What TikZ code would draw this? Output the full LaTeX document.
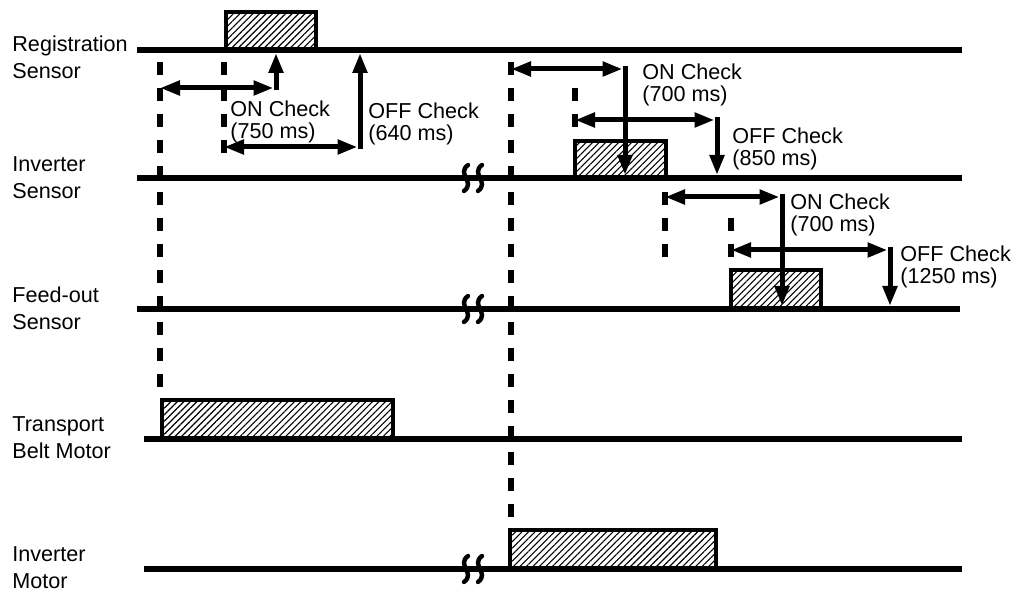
\documentclass[tikz,border=0pt]{standalone}
\usepackage{fontspec}
\setmainfont{Liberation Sans}
\usetikzlibrary{arrows.meta,patterns.meta}

\begin{document}
\begin{tikzpicture}[
    x=0.5pt, y=-0.5pt,
    font=\fontsize{10.8}{11}\selectfont,
    signal/.style={line width=3pt},
    pulse/.style={line width=2.2pt, pattern={Lines[angle=45, distance=2.3pt, line width=0.55pt]}},
    guide/.style={line width=2.8pt, dash pattern=on 6.5pt off 6.5pt},
    span/.style={line width=2.5pt, {Triangle[length=10pt, width=7pt]}-{Triangle[length=10pt, width=7pt]}},
    check/.style={line width=2.5pt, -{Triangle[length=10pt, width=7pt]}},
    breakmark/.style={line width=2.2pt, line cap=round},
    sidelabel/.style={anchor=west, align=left, inner sep=0pt, font=\fontsize{10.8}{13.5}\selectfont},
    checklabel/.style={anchor=north west, align=left, inner sep=0pt}
]
    \useasboundingbox (0,0) rectangle (1013,592);

    % Signal levels
    \coordinate (reg-l)  at (137,50);  \coordinate (reg-r)  at (962,50);
    \coordinate (inv-l)  at (137,178); \coordinate (inv-r)  at (962,178);
    \coordinate (feed-l) at (137,309); \coordinate (feed-r) at (960,309);
    \coordinate (belt-l) at (144,439); \coordinate (belt-r) at (962,439);
    \coordinate (mot-l)  at (144,569); \coordinate (mot-r)  at (962,569);

    % Pulses (hatched)
    \draw[pulse] (226,50)  |- (316,12)  -- (316,50);
    \draw[pulse] (575,178) |- (666,141) -- (666,178);
    \draw[pulse] (731,309) |- (821,270) -- (821,309);
    \draw[pulse] (162,439) |- (393,400) -- (393,439);
    \draw[pulse] (510,569) |- (716,530) -- (716,569);

    \draw[signal] (reg-l)  -- (reg-r);
    \draw[signal] (inv-l)  -- (inv-r);
    \draw[signal] (feed-l) -- (feed-r);
    \draw[signal] (belt-l) -- (belt-r);
    \draw[signal] (mot-l)  -- (mot-r);

    % Time breaks
    \draw[breakmark, shift={(466,178)}] (2,-13) .. controls (-10,-4) and (10,4) .. (-2,13);
    \draw[breakmark, shift={(480,178)}] (2,-13) .. controls (-10,-4) and (10,4) .. (-2,13);
    \draw[breakmark, shift={(466,309)}] (2,-13) .. controls (-10,-4) and (10,4) .. (-2,13);
    \draw[breakmark, shift={(480,309)}] (2,-13) .. controls (-10,-4) and (10,4) .. (-2,13);
    \draw[breakmark, shift={(466,569)}] (2,-13) .. controls (-10,-4) and (10,4) .. (-2,13);
    \draw[breakmark, shift={(480,569)}] (2,-13) .. controls (-10,-4) and (10,4) .. (-2,13);

    % Dashed guides
    \draw[guide] (160,62) -- (160,387);
    \draw[guide] (224,62) -- (224,153);
    \draw[guide] (511,62) -- (511,517);
    \draw[guide] (575,88) -- (575,127);
    \draw[guide] (665,192) -- (665,257);
    \draw[guide] (731,218) -- (731,257);

    % Registration sensor checks
    \coordinate (reg-on-a)  at (160,88);  \coordinate (reg-on-b)  at (276,88);  \coordinate (reg-on-c)  at (276,53);
    \coordinate (reg-off-a) at (224,147); \coordinate (reg-off-b) at (360,147); \coordinate (reg-off-c) at (360,53);
    \draw[span]  (reg-on-a) -- ([xshift=-1.25pt]reg-on-b);
    \draw[check] ([yshift=-1.25pt]reg-on-b) -- (reg-on-c);
    \draw[span]  (reg-off-a) -- ([xshift=-1.25pt]reg-off-b);
    \draw[check] ([yshift=-1.25pt]reg-off-b) -- (reg-off-c);

    % Inverter sensor checks
    \coordinate (inv-on-a)  at (511,69);  \coordinate (inv-on-b)  at (625,69);  \coordinate (inv-on-c)  at (625,175);
    \coordinate (inv-off-a) at (575,120); \coordinate (inv-off-b) at (717,120); \coordinate (inv-off-c) at (717,175);
    \draw[span]  (inv-on-a) -- ([xshift=-1.25pt]inv-on-b);
    \draw[check] ([yshift=1.25pt]inv-on-b) -- (inv-on-c);
    \draw[span]  (inv-off-a) -- ([xshift=-1.25pt]inv-off-b);
    \draw[check] ([yshift=1.25pt]inv-off-b) -- (inv-off-c);

    % Feed-out sensor checks
    \coordinate (feed-on-a)  at (665,197); \coordinate (feed-on-b)  at (782,197); \coordinate (feed-on-c)  at (782,306);
    \coordinate (feed-off-a) at (731,250); \coordinate (feed-off-b) at (890,250); \coordinate (feed-off-c) at (890,306);
    \draw[span]  (feed-on-a) -- ([xshift=-1.25pt]feed-on-b);
    \draw[check] ([yshift=1.25pt]feed-on-b) -- (feed-on-c);
    \draw[span]  (feed-off-a) -- ([xshift=-1.25pt]feed-off-b);
    \draw[check] ([yshift=1.25pt]feed-off-b) -- (feed-off-c);

    % Check labels
    \node[checklabel] (reg-on-txt)   at (230,100) {ON Check\\(750 ms)};
    \node[checklabel] (reg-off-txt)  at (368,102) {OFF Check\\(640 ms)};
    \node[checklabel] (inv-on-txt)   at (642,63)  {ON Check\\(700 ms)};
    \node[checklabel] (inv-off-txt)  at (732,127) {OFF Check\\(850 ms)};
    \node[checklabel] (feed-on-txt)  at (790,193) {ON Check\\(700 ms)};
    \node[checklabel] (feed-off-txt) at (900,245) {OFF Check\\(1250 ms)};

    % Signal names
    \node[sidelabel] (reg-name)  at (12,57)  {Registration\\Sensor};
    \node[sidelabel] (inv-name)  at (12,178) {Inverter\\Sensor};
    \node[sidelabel] (feed-name) at (12,308) {Feed-out\\Sensor};
    \node[sidelabel] (belt-name) at (12,438) {Transport\\Belt Motor};
    \node[sidelabel] (mot-name)  at (12,568) {Inverter\\Motor};

\end{tikzpicture}
\end{document}
